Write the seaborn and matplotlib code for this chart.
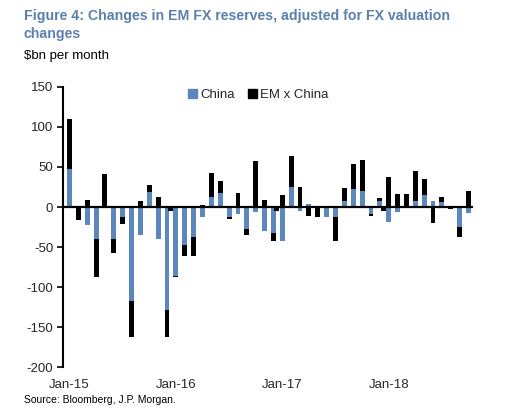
import numpy as np
import pandas as pd
import matplotlib
matplotlib.use("Agg")
import matplotlib.pyplot as plt
from matplotlib.patches import Patch
import seaborn as sns

# monthly changes, $bn, Jan-15 .. Oct-18
months = pd.date_range("2015-01-01", periods=46, freq="MS")
china = [47, -1, -22, -40, 0, -40, -13, -117, -35, 19, -40, -129,
         -86, -47, -37, -13, 12, 17, -12, -9, -28, -6, -30, -33,
         -43, 25, -5, 4, 0, -13, -12, 8, 22, 20, -9, 7,
         -19, -6, 0, 7, 15, 7, 6, 0, -25, -8]
em_x_china = [63, -15, 9, -47, 41, -17, -8, -45, 8, 8, 12, -34,
              -2, -14, -24, 2, 31, 16, -3, 18, -7, 58, 9, -10,
              15, 39, 25, -11, -12, 1, -31, 16, 32, 39, -2, 4,
              38, 16, 16, 38, 20, -20, 6, -2, -13, 20]
# small year-end EM x China entries that sit between Dec and Jan bars
extra_dates = pd.to_datetime(["2015-12-13", "2016-12-13", "2017-12-13"])
extra_vals = [-5, -5, -5]

tick_labels = ["Jan-15", "Jan-16", "Jan-17", "Jan-18"]

blue = "#5b87bd"
title_col = "#5b80ae"

sns.set_style("white")
plt.rcParams["font.family"] = ["Liberation Sans", "DejaVu Sans"]
plt.rcParams["axes.unicode_minus"] = False

df = pd.DataFrame({"month": months.strftime("%b-%y"), "china": china, "em": em_x_china})
same_sign = np.sign(df["em"]) == np.sign(df["china"])
df["em_bottom"] = np.where(same_sign, df["china"], 0)

fig = plt.figure(figsize=(5.10, 4.12), dpi=100)
ax = fig.add_axes([0.1235, 0.109, 0.8035, 0.680])

bw = 0.55
sns.barplot(data=df, x="month", y="china", color=blue, saturation=1,
            width=bw, linewidth=0, ax=ax)
sns.barplot(data=df, x="month", y="em", color="black", saturation=1,
            width=bw, linewidth=0, bottom=df["em_bottom"].values, ax=ax)

# year-end entries placed by date between the monthly categories
start = months[0]
extra_pos = [(d.year - start.year) * 12 + d.month - 1 + (d.day - 1) / d.days_in_month
             for d in extra_dates]
ax.bar(extra_pos, extra_vals, width=bw, color="black", linewidth=0)

ax.axhline(0, color="black", lw=1.6, zorder=5)

ax.set_xlim(-0.73, 45.48)
ax.set_ylim(-200, 150)
ax.set_yticks(range(-200, 151, 50))
ax.set_xticks([0, 12, 24, 36])
ax.set_xticklabels(tick_labels)
ax.set_xlabel("")
ax.set_ylabel("")

for s in ["top", "right", "bottom"]:
    ax.spines[s].set_visible(False)
ax.spines["left"].set_linewidth(1.5)
ax.spines["left"].set_color("black")
ax.tick_params(axis="y", left=True, length=4, width=1.2, color="black",
               labelsize=9.5, pad=3)
ax.tick_params(axis="x", bottom=False, labelsize=9.5, pad=5)

handles = [Patch(color=blue, label="China"), Patch(color="black", label="EM x China")]
ax.legend(handles=handles, loc="center", bbox_to_anchor=(0.476, 0.971), ncol=2,
          frameon=False, fontsize=9.5, handlelength=0.7, handleheight=0.7,
          handletextpad=0.2, columnspacing=1.0, borderaxespad=0)

fig.text(0.047, 1 - 9 / 412,
         "Figure 4: Changes in EM FX reserves, adjusted for FX valuation\nchanges",
         ha="left", va="top", fontsize=10.2, fontweight="bold", color=title_col,
         linespacing=1.4)
fig.text(0.047, 1 - 56 / 412, r"\$bn per month", ha="left", va="center",
         fontsize=9.5, color="black")
fig.text(0.047, 1 - 400 / 412, "Source: Bloomberg, J.P. Morgan.", ha="left",
         va="center", fontsize=7.5, color="black")

fig.savefig("out.png", dpi=100)
